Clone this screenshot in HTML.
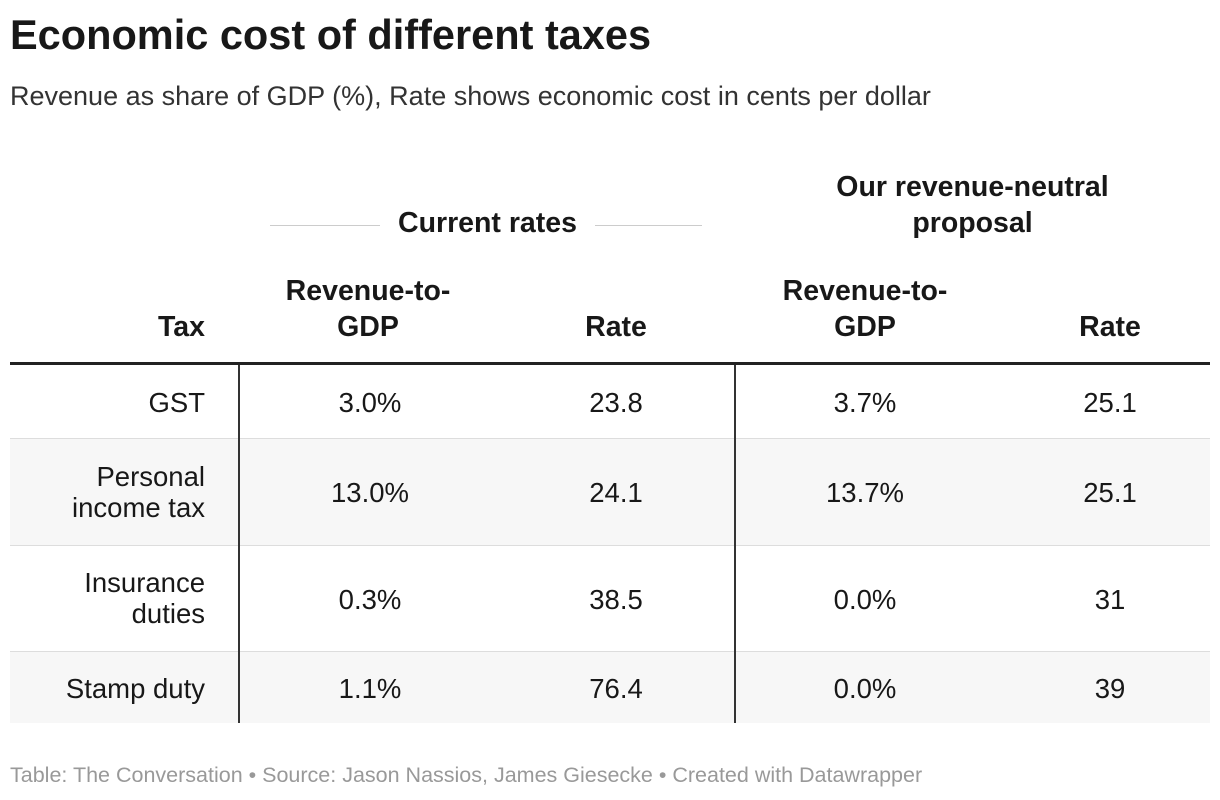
<!DOCTYPE html>
<html><head><meta charset="utf-8"><style>
body{margin:0;width:1220px;height:800px;background:#fff;font-family:"Liberation Sans",sans-serif;color:#181818;position:relative;overflow:hidden}
.a{position:absolute;white-space:nowrap}
.t{left:10px;top:11px;font-size:41.5px;font-weight:bold}
.s{left:10px;top:81px;font-size:27px;color:#333}
.h{font-size:28.5px;font-weight:bold;text-align:center;line-height:36px}
.c{font-size:27.5px;text-align:center;line-height:31px}
.r{font-size:27.5px;text-align:right;line-height:31px}
.line{position:absolute;background:#ccc;height:1px}
.row{position:absolute;left:10px;width:1200px}
.f{left:10px;top:763px;font-size:21.5px;color:#999}
</style></head><body>
<div class="a t">Economic cost of different taxes</div>
<div class="a s">Revenue as share of GDP (%), Rate shows economic cost in cents per dollar</div>

<div class="line" style="left:270px;top:225px;width:110px"></div>
<div class="a h" style="left:380px;top:205px;width:215px">Current rates</div>
<div class="line" style="left:595px;top:225px;width:107px"></div>
<div class="a h" style="left:800px;top:169px;width:345px;white-space:normal">Our revenue-neutral<br>proposal</div>

<div class="a h" style="left:10px;top:309px;width:195px;text-align:right">Tax</div>
<div class="a h" style="left:268px;top:273px;width:200px">Revenue-to-<br>GDP</div>
<div class="a h" style="left:516px;top:309px;width:200px">Rate</div>
<div class="a h" style="left:765px;top:273px;width:200px">Revenue-to-<br>GDP</div>
<div class="a h" style="left:1010px;top:309px;width:200px">Rate</div>

<div class="a" style="left:10px;top:362px;width:1200px;height:3px;background:#222"></div>

<div class="row" style="top:365px;height:73px;border-bottom:1px solid #ddd"></div>
<div class="row" style="top:439px;height:106px;background:#f7f7f7;border-bottom:1px solid #ddd"></div>
<div class="row" style="top:546px;height:105px;border-bottom:1px solid #ddd"></div>
<div class="row" style="top:652px;height:71px;background:#f7f7f7"></div>
<div class="a" style="left:238px;top:365px;width:2px;height:358px;background:#333"></div>
<div class="a" style="left:734px;top:365px;width:2px;height:358px;background:#333"></div>

<div class="a r" style="left:10px;top:387px;width:195px">GST</div>
<div class="a c" style="left:270px;top:387px;width:200px">3.0%</div>
<div class="a c" style="left:516px;top:387px;width:200px">23.8</div>
<div class="a c" style="left:765px;top:387px;width:200px">3.7%</div>
<div class="a c" style="left:1010px;top:387px;width:200px">25.1</div>

<div class="a r" style="left:10px;top:461px;width:195px">Personal<br>income tax</div>
<div class="a c" style="left:270px;top:477px;width:200px">13.0%</div>
<div class="a c" style="left:516px;top:477px;width:200px">24.1</div>
<div class="a c" style="left:765px;top:477px;width:200px">13.7%</div>
<div class="a c" style="left:1010px;top:477px;width:200px">25.1</div>

<div class="a r" style="left:10px;top:567px;width:195px">Insurance<br>duties</div>
<div class="a c" style="left:270px;top:584px;width:200px">0.3%</div>
<div class="a c" style="left:516px;top:584px;width:200px">38.5</div>
<div class="a c" style="left:765px;top:584px;width:200px">0.0%</div>
<div class="a c" style="left:1010px;top:584px;width:200px">31</div>

<div class="a r" style="left:10px;top:673px;width:195px">Stamp duty</div>
<div class="a c" style="left:270px;top:673px;width:200px">1.1%</div>
<div class="a c" style="left:516px;top:673px;width:200px">76.4</div>
<div class="a c" style="left:765px;top:673px;width:200px">0.0%</div>
<div class="a c" style="left:1010px;top:673px;width:200px">39</div>

<div class="a f">Table: The Conversation • Source: Jason Nassios, James Giesecke • Created with Datawrapper</div>
</body></html>
